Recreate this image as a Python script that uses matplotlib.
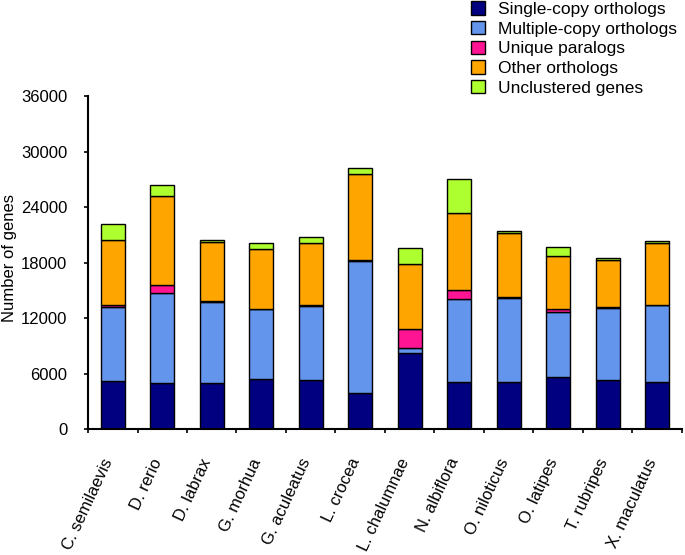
import numpy as np
import matplotlib.pyplot as plt

plt.rcParams['font.family'] = ['Liberation Sans', 'DejaVu Sans']

# Data
species = ['C. semilaevis', 'D. rerio', 'D. labrax', 'G. morhua', 'G. aculeatus',
           'L. crocea', 'L. chalumnae', 'N. albiflora', 'O. niloticus', 'O. latipes',
           'T. rubripes', 'X. maculatus']
single_copy = [5170, 4960, 4990, 5420, 5320, 3880, 8190, 5030, 5030, 5570, 5280, 5070]
multiple_copy = [8020, 9770, 8770, 7510, 7980, 14260, 570, 8980, 9160, 7040, 7800, 8300]
unique_paralogs = [250, 790, 40, 70, 70, 140, 2010, 970, 70, 320, 70, 70]
other_orthologs = [7040, 9670, 6430, 6500, 6760, 9310, 7110, 8370, 6970, 5820, 5100, 6680]
unclustered = [1650, 1190, 210, 580, 680, 650, 1650, 3670, 180, 940, 220, 220]

series = [
    ('Single-copy orthologs', single_copy, '#000080'),
    ('Multiple-copy orthologs', multiple_copy, '#6495ED'),
    ('Unique paralogs', unique_paralogs, '#FF1493'),
    ('Other orthologs', other_orthologs, '#FFA500'),
    ('Unclustered genes', unclustered, '#ADFF2F'),
]

fig = plt.figure(figsize=(6.85, 5.55), dpi=100)
ax = fig.add_axes([0.1285, 0.227, 0.867, 0.600])

x = np.arange(len(species))
bottom = np.zeros(len(species))
for name, vals, color in series:
    ax.bar(x, vals, width=0.49, bottom=bottom, color=color, edgecolor='black',
           linewidth=1, label=name)
    bottom += np.array(vals)

ax.set_xlim(-0.5, len(species) - 0.5)
ax.set_ylim(0, 36000)
ax.set_yticks(np.arange(0, 36001, 6000))
ax.tick_params(axis='y', labelsize=12, direction='out', length=3, width=1.2, pad=12)
ax.set_ylabel('Number of genes', fontsize=12)
ax.yaxis.set_label_coords(-0.12, 0.515)

ax.set_xticks(x)
ax.set_xticklabels(species, rotation=65, ha='right', va='baseline',
                   rotation_mode='anchor', fontsize=12)
ax.tick_params(axis='x', which='major', length=0, pad=23)
ax.set_xticks(np.arange(-0.5, len(species), 1.0), minor=True)
ax.tick_params(axis='x', which='minor', direction='out', length=3, width=1.2)

for s in ['top', 'right']:
    ax.spines[s].set_visible(False)
for s in ['left', 'bottom']:
    ax.spines[s].set_linewidth(1.5)

ax.legend(loc='upper left', bbox_to_anchor=(0.675, 1.013), bbox_transform=fig.transFigure,
          frameon=False, fontsize=12.5, handlelength=0.8, handleheight=0.8,
          handletextpad=0.75, labelspacing=0.23, borderpad=0)

fig.savefig('out.png', dpi=100)
